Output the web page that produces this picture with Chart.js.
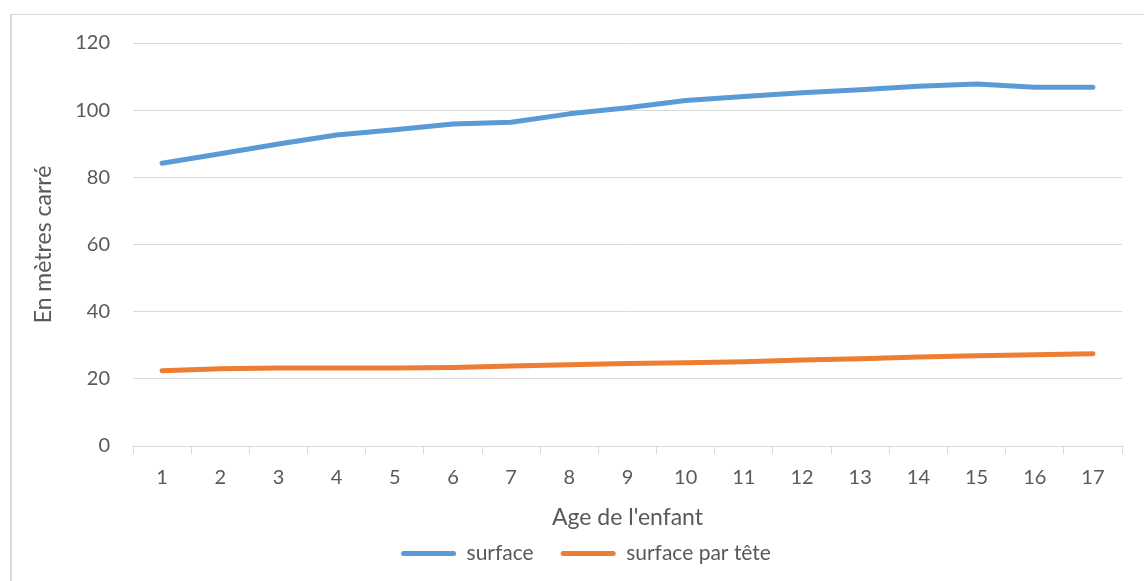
<!DOCTYPE html>
<html lang="fr">
<head>
<meta charset="utf-8">
<title>Surface du logement selon l'âge de l'enfant</title>
<script src="https://cdn.jsdelivr.net/npm/chart.js@4.4.1/dist/chart.umd.min.js"></script>
<style>
  html, body { margin: 0; padding: 0; background: #ffffff; overflow: hidden; }
  #wrap { position: relative; width: 1144px; height: 581px; }
  #frame {
    position: absolute; left: 10px; top: 14px; width: 1150px; height: 600px;
    border-left: 2px solid #D9D9D9; border-top: 1px solid #D9D9D9;
    pointer-events: none; box-sizing: border-box;
  }
  canvas { position: absolute; left: 0; top: 0; }
</style>
</head>
<body>
<div id="wrap">
  <canvas id="chart" width="1144" height="581"></canvas>
  <div id="frame"></div>
</div>
<script>
// Age of the child (years)
const ages = ['1', '2', '3', '4', '5', '6', '7', '8', '9', '10', '11', '12', '13', '14', '15', '16', '17'];
// Dwelling surface, m²
const surface = [84.2, 87.0, 89.9, 92.6, 94.2, 95.9, 96.4, 98.9, 100.7, 102.9, 104.1, 105.2, 106.1, 107.1, 107.8, 106.8, 106.8];
// Surface per person, m²
const surfaceParTete = [22.4, 23.0, 23.2, 23.2, 23.2, 23.4, 23.8, 24.2, 24.6, 24.8, 25.1, 25.6, 26.0, 26.5, 26.9, 27.2, 27.5];
// Y axis range and step
const yMin = 0, yMax = 120, yStep = 20;

const FONT = 'Lato, "Open Sans", "DejaVu Sans", sans-serif';
const TEXT = '#595959';
const GRID = '#D9D9D9';

// Places the legend row under the axis title
const legendPlacement = {
  id: 'legendPlacement',
  afterLayout(chart) {
    const lg = chart.legend;
    const dx = 25;
    lg.left += dx; lg.right += dx;
    lg.top = 516;
    lg.bottom = 581;
    lg.height = lg.bottom - lg.top;
  }
};

new Chart(document.getElementById('chart'), {
  type: 'line',
  data: {
    labels: ages,
    datasets: [
      {
        label: 'surface',
        data: surface,
        borderColor: '#5B9BD5',
        backgroundColor: '#5B9BD5',
        borderWidth: 5,
        borderCapStyle: 'round',
        borderJoinStyle: 'round',
        pointRadius: 0,
        tension: 0,
        fill: false
      },
      {
        label: 'surface par tête',
        data: surfaceParTete,
        borderColor: '#ED7D31',
        backgroundColor: '#ED7D31',
        borderWidth: 5,
        borderCapStyle: 'round',
        borderJoinStyle: 'round',
        pointRadius: 0,
        tension: 0,
        fill: false
      }
    ]
  },
  options: {
    responsive: false,
    animation: false,
    layout: { padding: { top: 43, right: 22, bottom: 0, left: 0 } },
    plugins: {
      tooltip: { enabled: false },
      legend: {
        position: 'bottom',
        maxHeight: 40,
        labels: {
          color: TEXT,
          font: { family: FONT, size: 21 },
          boxWidth: 55,
          boxHeight: 5,
          padding: 27,
          useBorderRadius: true,
          borderRadius: 2.5,
          generateLabels(chart) {
            return chart.data.datasets.map((ds, i) => ({
              text: ds.label,
              fillStyle: ds.borderColor,
              strokeStyle: ds.borderColor,
              lineWidth: 0,
              hidden: false,
              datasetIndex: i,
              fontColor: TEXT,
              borderRadius: 2.5
            }));
          }
        }
      }
    },
    scales: {
      x: {
        type: 'category',
        offset: true,
        afterFit(scale) { scale.height = 95; },
        grid: {
          offset: true,
          drawOnChartArea: false,
          drawTicks: true,
          tickLength: 8,
          color: GRID,
          lineWidth: 1
        },
        border: { display: true, color: GRID, width: 1 },
        ticks: {
          color: TEXT,
          font: { family: FONT, size: 20 },
          padding: 12,
          maxRotation: 0,
          autoSkip: false
        },
        title: {
          display: true,
          text: "Age de l'enfant",
          color: TEXT,
          font: { family: FONT, size: 23 },
          padding: { top: 0, bottom: 10 }
        }
      },
      y: {
        min: yMin,
        max: yMax,
        afterFit(scale) { scale.width = 133; },
        grid: { color: GRID, lineWidth: 1, drawTicks: false },
        border: { display: false },
        ticks: {
          stepSize: yStep,
          color: TEXT,
          font: { family: FONT, size: 20 },
          padding: 23
        },
        title: {
          display: true,
          text: 'En mètres carré',
          color: TEXT,
          font: { family: FONT, size: 23 },
          padding: { top: 30, bottom: 0 }
        }
      }
    }
  },
  plugins: [legendPlacement]
});
</script>
</body>
</html>
